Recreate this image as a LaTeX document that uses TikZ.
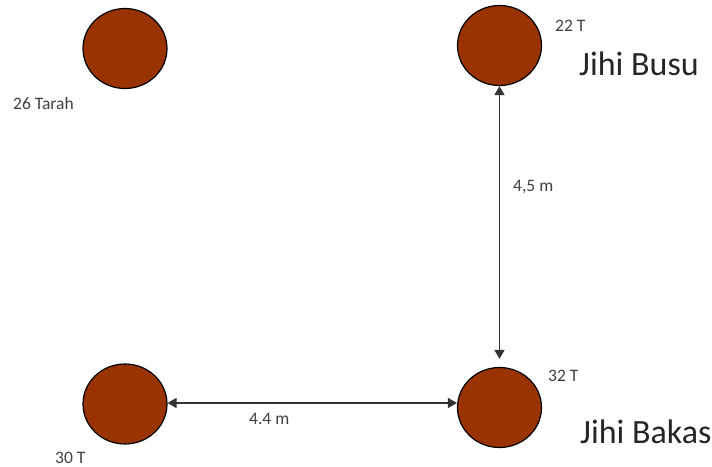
\documentclass[tikz,border=0pt]{standalone}
\usepackage{fontspec}
\setmainfont{Carlito}
\usetikzlibrary{arrows.meta,shapes.geometric}
\definecolor{treefill}{HTML}{993300}
\definecolor{labelgrey}{HTML}{404040}
\tikzset{
  tree/.style={ellipse,draw=black,line width=1.2pt,fill=treefill,minimum width=84pt,minimum height=80pt,inner sep=0pt},
  small/.style={anchor=base west,inner sep=0pt,text=labelgrey,font=\fontsize{17.5}{20}\selectfont},
  big/.style={anchor=base west,inner sep=0pt,text=black!85,font=\fontsize{34}{38}\selectfont},
  dist/.style={{Triangle[length=9pt,width=10pt]}-{Triangle[length=9pt,width=10pt]},line width=1.6pt,draw=black!80}
}
\begin{document}
\begin{tikzpicture}[x=1pt,y=-1pt]
\path[use as bounding box] (0,0) rectangle (712,466);
\node[tree] (tl) at (125,48.5) {};
\node[tree] (tr) at (499.5,45.5) {};
\node[tree] (bl) at (125,404) {};
\node[tree] (br) at (499.5,407.5) {};
\node[small] (ltl) at (13,109) {26 Tarah};
\node[small] (ltr) at (555,31) {22 T};
\node[small] (lbl) at (55,463) {30 T};
\node[small] (lbr) at (548,381) {32 T};
\node[big] (busu) at (579,75) {Jihi Busu};
\node[big] (bakas) at (580,443) {Jihi Bakas};
\draw[dist,shorten >=8pt] (tr.south) -- (br.north);
\coordinate (hr) at (br.west |- 0,403);
\coordinate (hl) at (bl.east |- 0,403);
\draw[dist] (hl) -- (hr);
\node[small] (d1) at (513,191) {4,5 m};
\node[small] (d2) at (249,424) {4.4 m};
\end{tikzpicture}
\end{document}
